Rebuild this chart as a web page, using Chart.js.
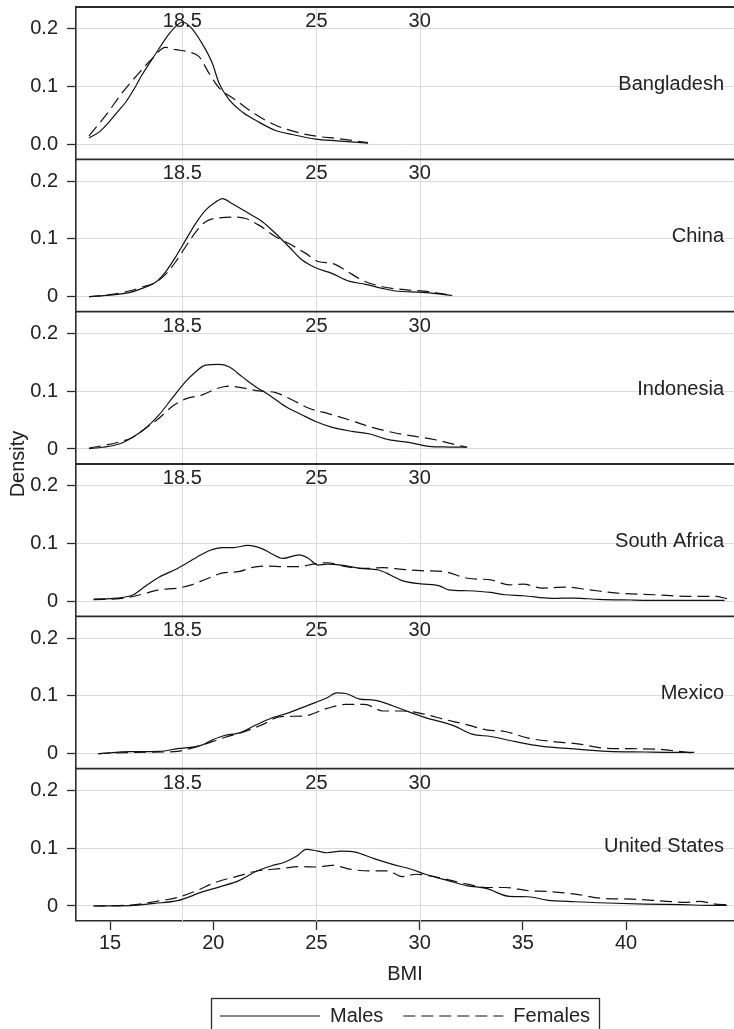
<!DOCTYPE html>
<html>
<head>
<meta charset="utf-8">
<script src="https://cdn.jsdelivr.net/npm/chart.js@4/dist/chart.umd.min.js"></script>
<style>
  html, body { margin: 0; padding: 0; background: #ffffff; overflow: hidden; }
  canvas { display: block; }
</style>
</head>
<body>
<canvas id="c" width="734" height="1036"></canvas>
<script>
// ---- data ----
const countries = ['Bangladesh', 'China', 'Indonesia', 'South Africa', 'Mexico', 'United States'];
const seriesNames = ['Males', 'Females'];
const xTicks = [15, 20, 25, 30, 35, 40];
const yTicks = [0, 0.1, 0.2];
const refLines = [18.5, 25, 30];
const xTitle = 'BMI';
const yTitle = 'Density';

const bangladeshMales = [[13.98,0.011],[14.5,0.022],[14.95,0.0385],[15.4,0.058],[15.75,0.0725],[16.2,0.098],[16.56,0.121],[17.21,0.157],[17.85,0.191],[18.26,0.207],[18.5,0.212],[18.9,0.203],[19.47,0.174],[19.95,0.141],[20.28,0.106],[20.76,0.078],[21.41,0.056],[22.21,0.0385],[23.02,0.024],[23.83,0.017],[24.96,0.009],[26.0,0.006],[27.5,0.002]];
const bangladeshFemales = [[13.98,0.0147],[14.79,0.05],[15.59,0.0895],[16.4,0.1235],[17.05,0.149],[17.69,0.168],[18.18,0.164],[18.82,0.16],[19.31,0.152],[19.79,0.1235],[20.28,0.098],[21.08,0.077],[21.89,0.0555],[23.02,0.033],[24.31,0.0187],[25.0,0.014],[26.0,0.01],[27.5,0.003]];

const chinaMales = [[13.98,0],[15.11,0.003],[15.92,0.007],[16.56,0.0144],[17.21,0.025],[17.69,0.043],[18.18,0.069],[18.66,0.098],[19.15,0.127],[19.63,0.15],[20.12,0.164],[20.44,0.17],[20.92,0.161],[21.73,0.144],[22.38,0.13],[23.02,0.1095],[23.67,0.0865],[24.31,0.0634],[24.96,0.05],[25.77,0.04],[26.57,0.027],[27.38,0.0213],[28.19,0.0144],[28.84,0.0098],[30.13,0.0075],[31.1,0.004],[31.58,0.002]];
const chinaFemales = [[13.98,0],[15.11,0.004],[15.92,0.0098],[16.56,0.0167],[17.21,0.025],[17.69,0.0386],[18.18,0.0605],[18.66,0.0865],[19.15,0.112],[19.63,0.13],[20.28,0.1366],[21.08,0.138],[21.57,0.1355],[22.21,0.124],[23.02,0.104],[23.67,0.092],[24.48,0.075],[25.12,0.0605],[25.77,0.0576],[26.4,0.046],[27.2,0.0288],[28.0,0.019],[28.66,0.0144],[29.47,0.0115],[30.45,0.0086],[31.58,0.002]];

const indonesiaMales = [[13.98,0.0006],[14.63,0.003],[15.43,0.0086],[16.08,0.02],[16.72,0.036],[17.37,0.059],[18.01,0.088],[18.66,0.1167],[19.15,0.134],[19.63,0.1454],[20.28,0.1466],[20.76,0.1425],[21.41,0.125],[22.05,0.108],[22.7,0.0937],[23.5,0.0736],[24.31,0.059],[24.96,0.0477],[25.77,0.0374],[26.73,0.0305],[27.54,0.0264],[28.5,0.0161],[29.47,0.0115],[30.45,0.0046],[31.42,0.0034],[32.3,0.003]];
const indonesiaFemales = [[13.98,0.0017],[14.63,0.0057],[15.43,0.012],[16.08,0.02],[16.72,0.036],[17.37,0.0534],[18.01,0.0736],[18.66,0.0868],[19.47,0.0937],[20.12,0.104],[20.76,0.109],[21.41,0.106],[22.21,0.1006],[23.02,0.0977],[23.83,0.085],[24.64,0.0707],[25.61,0.061],[26.57,0.0506],[27.54,0.039],[28.66,0.029],[29.79,0.0218],[30.76,0.016],[31.73,0.0075],[32.3,0.003]];

const southAfricaMales = [[14.2,0.004],[15.33,0.0057],[16.12,0.0114],[16.69,0.0257],[17.37,0.0417],[18.27,0.057],[19.18,0.076],[19.86,0.0886],[20.43,0.0931],[20.99,0.0931],[21.67,0.097],[22.35,0.0914],[22.8,0.083],[23.37,0.0743],[24.16,0.0806],[24.62,0.0743],[25.07,0.0629],[25.52,0.0646],[26.2,0.0629],[27.1,0.057],[28.01,0.0543],[28.58,0.0457],[29.15,0.036],[30.05,0.0303],[30.96,0.0269],[31.41,0.02],[32.32,0.0183],[33.45,0.0154],[34.13,0.0114],[35.03,0.0097],[36.39,0.0051],[37.53,0.0057],[38.66,0.0034],[40.24,0.0023],[41.83,0.0017],[43.19,0.0017],[44.77,0.0017]];
const southAfricaFemales = [[14.2,0.003],[15.56,0.005],[16.46,0.0114],[17.37,0.02],[18.27,0.0229],[18.95,0.0286],[19.63,0.0383],[20.54,0.0497],[21.22,0.0514],[21.9,0.0589],[22.58,0.0611],[23.48,0.06],[24.16,0.06],[24.84,0.0646],[25.52,0.0669],[26.43,0.06],[27.33,0.057],[28.24,0.0583],[29.15,0.0554],[30.05,0.0531],[31.18,0.0514],[32.32,0.04],[33.45,0.0371],[34.35,0.0286],[35.03,0.0297],[35.94,0.0229],[37.07,0.0246],[38.2,0.02],[39.56,0.0143],[41.38,0.0114],[43.19,0.0086],[44.32,0.0086],[44.89,0.0046]];

const mexicoMales = [[14.42,0],[16.01,0.0034],[17.37,0.004],[18.27,0.0086],[19.41,0.0143],[19.97,0.024],[20.54,0.0315],[21.22,0.0355],[22.01,0.0487],[22.8,0.0613],[23.71,0.0716],[24.62,0.0842],[25.52,0.0968],[25.97,0.1054],[26.43,0.1043],[27.1,0.0946],[27.79,0.0928],[28.69,0.0831],[29.37,0.0739],[30.28,0.0625],[31.64,0.0487],[32.54,0.0338],[33.45,0.0298],[34.58,0.0212],[35.94,0.0126],[37.3,0.0086],[39.11,0.004],[40.92,0.0029],[42.28,0.0023],[43.3,0.0023]];
const mexicoFemales = [[14.42,0],[16.24,0.0023],[17.6,0.0029],[18.27,0.004],[19.41,0.0143],[20.54,0.028],[21.44,0.0372],[22.35,0.0499],[23.26,0.0642],[24.39,0.0653],[25.52,0.0785],[26.43,0.0854],[27.33,0.0854],[28.24,0.0739],[29.15,0.0739],[30.05,0.0699],[31.18,0.0596],[32.32,0.0499],[33.22,0.0413],[34.13,0.0384],[35.26,0.0269],[36.39,0.0212],[37.75,0.0166],[38.88,0.0097],[40.24,0.0086],[41.38,0.008],[42.28,0.0052],[43.19,0.0011]];

const unitedStatesMales = [[14.2,0],[16.01,0.0006],[17.14,0.0046],[18.27,0.0092],[19.41,0.0235],[20.31,0.0332],[21.22,0.0436],[22.12,0.0607],[22.8,0.0693],[23.48,0.0762],[24.05,0.0865],[24.5,0.098],[25.07,0.0951],[25.52,0.0923],[26.2,0.0951],[26.88,0.0934],[27.79,0.082],[28.69,0.0722],[29.6,0.0636],[30.28,0.055],[31.41,0.0436],[32.32,0.035],[33.22,0.0304],[34.35,0.0166],[35.26,0.016],[36.16,0.0103],[37.53,0.0074],[39.11,0.0052],[40.92,0.0034],[42.73,0.0023],[44.1,0.0011],[44.89,0.0011]];
const unitedStatesFemales = [[14.2,0],[16.01,0.0017],[17.14,0.0074],[18.27,0.0149],[19.18,0.0264],[20.09,0.0407],[21.22,0.0521],[22.12,0.0607],[23.26,0.0648],[24.16,0.0682],[25.07,0.0676],[25.75,0.0705],[26.65,0.0636],[27.56,0.0607],[28.46,0.0607],[29.15,0.051],[29.82,0.055],[30.5,0.0521],[31.41,0.0453],[32.32,0.0378],[33.22,0.0321],[34.13,0.0321],[35.26,0.0264],[36.16,0.0252],[37.53,0.0206],[38.88,0.0132],[40.24,0.012],[41.83,0.0086],[42.96,0.0063],[43.53,0.008],[44.32,0.0034],[44.89,0.0023]];

const malesByCountry = [bangladeshMales, chinaMales, indonesiaMales, southAfricaMales, mexicoMales, unitedStatesMales];
const femalesByCountry = [bangladeshFemales, chinaFemales, indonesiaFemales, southAfricaFemales, mexicoFemales, unitedStatesFemales];

// ---- styling ----
const FONT = { family: '"Liberation Sans", Arial, Helvetica, sans-serif', size: 20 };
const TEXT = '#222222';
const AXIS = '#2b2b2b';
const GRID = '#dcdcdc';

const toPts = arr => arr.map(p => ({ x: p[0], y: p[1] }));

const datasets = [];
countries.forEach((c, i) => {
  datasets.push({
    label: seriesNames[0], data: toPts(malesByCountry[i]), yAxisID: 'y' + i, xAxisID: 'x',
    borderColor: '#111', borderWidth: 1.2, pointRadius: 0, pointStyle: 'line',
    fill: false, cubicInterpolationMode: 'monotone'
  });
  datasets.push({
    label: seriesNames[1], data: toPts(femalesByCountry[i]), yAxisID: 'y' + i, xAxisID: 'x',
    borderColor: '#111', borderWidth: 1.2, borderDash: [12, 6], pointRadius: 0, pointStyle: 'line',
    fill: false, cubicInterpolationMode: 'monotone'
  });
});

const scales = {
  x: {
    type: 'linear', position: 'bottom', min: 13.35, max: 45.23,
    afterBuildTicks: s => { s.ticks = xTicks.map(v => ({ value: v })); },
    afterFit: s => { s.height = 65; s.paddingLeft = 0; s.paddingRight = 0; },
    ticks: { font: FONT, color: TEXT, padding: 1, autoSkip: false, maxRotation: 0 },
    grid: { drawOnChartArea: false, drawTicks: true, tickLength: 9, tickColor: AXIS, tickWidth: 1.3 },
    border: { display: true, color: AXIS, width: 1.6 },
    title: { display: true, text: xTitle, font: FONT, color: TEXT, padding: { top: 0, bottom: 0 } }
  }
};
// define bottom panel first so the last defined (Bangladesh) is stacked on top
for (let i = countries.length - 1; i >= 0; i--) {
  scales['y' + i] = {
    type: 'linear', position: 'left', stack: 'panels', stackWeight: 1, offset: false,
    min: -0.026, max: 0.238,
    afterBuildTicks: s => { s.ticks = yTicks.map(v => ({ value: v })); },
    afterFit: s => { s.width = 76; s.paddingTop = 0; s.paddingBottom = 0; },
    ticks: {
      font: FONT, color: TEXT, padding: 9,
      callback: v => (i === 0 ? v.toFixed(1) : (v === 0 ? '0' : v.toFixed(1)))
    },
    grid: { color: GRID, lineWidth: 1, drawTicks: true, tickLength: 9, tickColor: AXIS, tickWidth: 1.3 },
    border: { display: true, color: AXIS, width: 1.6 }
  };
}

const panelDecor = {
  id: 'panelDecor',
  beforeDatasetsDraw(chart) {
    const { ctx, chartArea: a } = chart;
    const sx = chart.scales.x;
    ctx.save();
    ctx.strokeStyle = GRID; ctx.lineWidth = 1;
    refLines.forEach(v => {
      const px = Math.round(sx.getPixelForValue(v)) + 0.5;
      ctx.beginPath(); ctx.moveTo(px, a.top); ctx.lineTo(px, a.bottom); ctx.stroke();
    });
    ctx.restore();
  },
  afterDatasetsDraw(chart) {
    const { ctx, chartArea: a } = chart;
    const sx = chart.scales.x;
    ctx.save();
    countries.forEach((c, i) => {
      const s = chart.scales['y' + i];
      // panel separator / top border
      ctx.strokeStyle = AXIS; ctx.lineWidth = 1.8;
      ctx.beginPath(); ctx.moveTo(a.left - 1, s.top); ctx.lineTo(a.right, s.top); ctx.stroke();
      ctx.font = FONT.size + 'px ' + FONT.family;
      ctx.fillStyle = TEXT;
      ctx.textBaseline = 'middle';
      ctx.textAlign = 'center';
      refLines.forEach(v => {
        ctx.fillText(String(v), sx.getPixelForValue(v), s.getPixelForValue(0.213));
      });
      ctx.textAlign = 'right';
      ctx.fillText(c, a.right - 10, s.getPixelForValue(0.104));
    });
    // y title
    ctx.translate(18, (a.top + a.bottom) / 2);
    ctx.rotate(-Math.PI / 2);
    ctx.textAlign = 'center';
    ctx.textBaseline = 'middle';
    ctx.fillText(yTitle, 0, 0);
    ctx.restore();
  },
  afterDraw(chart) {
    const lg = chart.legend;
    if (!lg || !lg.legendHitBoxes || !lg.legendHitBoxes.length) return;
    const hb = lg.legendHitBoxes;
    let l = Infinity, r = -Infinity, cy = 0;
    hb.forEach(h => { l = Math.min(l, h.left); r = Math.max(r, h.left + h.width); cy = h.top + h.height / 2; });
    const { ctx } = chart;
    ctx.save();
    ctx.strokeStyle = AXIS; ctx.lineWidth = 1.3;
    ctx.strokeRect(Math.round(l - 9) + 0.5, Math.round(cy - 18) + 0.5, Math.round(r - l + 18), 40);
    ctx.restore();
  }
};

const baseLabels = Chart.defaults.plugins.legend.labels.generateLabels;

new Chart(document.getElementById('c'), {
  type: 'line',
  data: { datasets },
  options: {
    responsive: false, animation: false, devicePixelRatio: 1,
    parsing: true, normalized: true,
    layout: { padding: { top: 7, right: 0, bottom: 0, left: 0 } },
    scales,
    plugins: {
      tooltip: { enabled: false },
      legend: {
        display: true, position: 'bottom', fullSize: false, align: 'center',
        labels: {
          usePointStyle: true, pointStyleWidth: 100, boxHeight: 20,
          font: FONT, color: TEXT, padding: 20,
          filter: item => item.datasetIndex < 2,
          generateLabels: chart => baseLabels(chart).map(it => {
            const ds = chart.data.datasets[it.datasetIndex];
            it.lineDash = ds.borderDash || [];
            it.lineWidth = ds.borderWidth;
            it.strokeStyle = ds.borderColor;
            return it;
          })
        }
      }
    }
  },
  plugins: [panelDecor]
});
</script>
</body>
</html>
